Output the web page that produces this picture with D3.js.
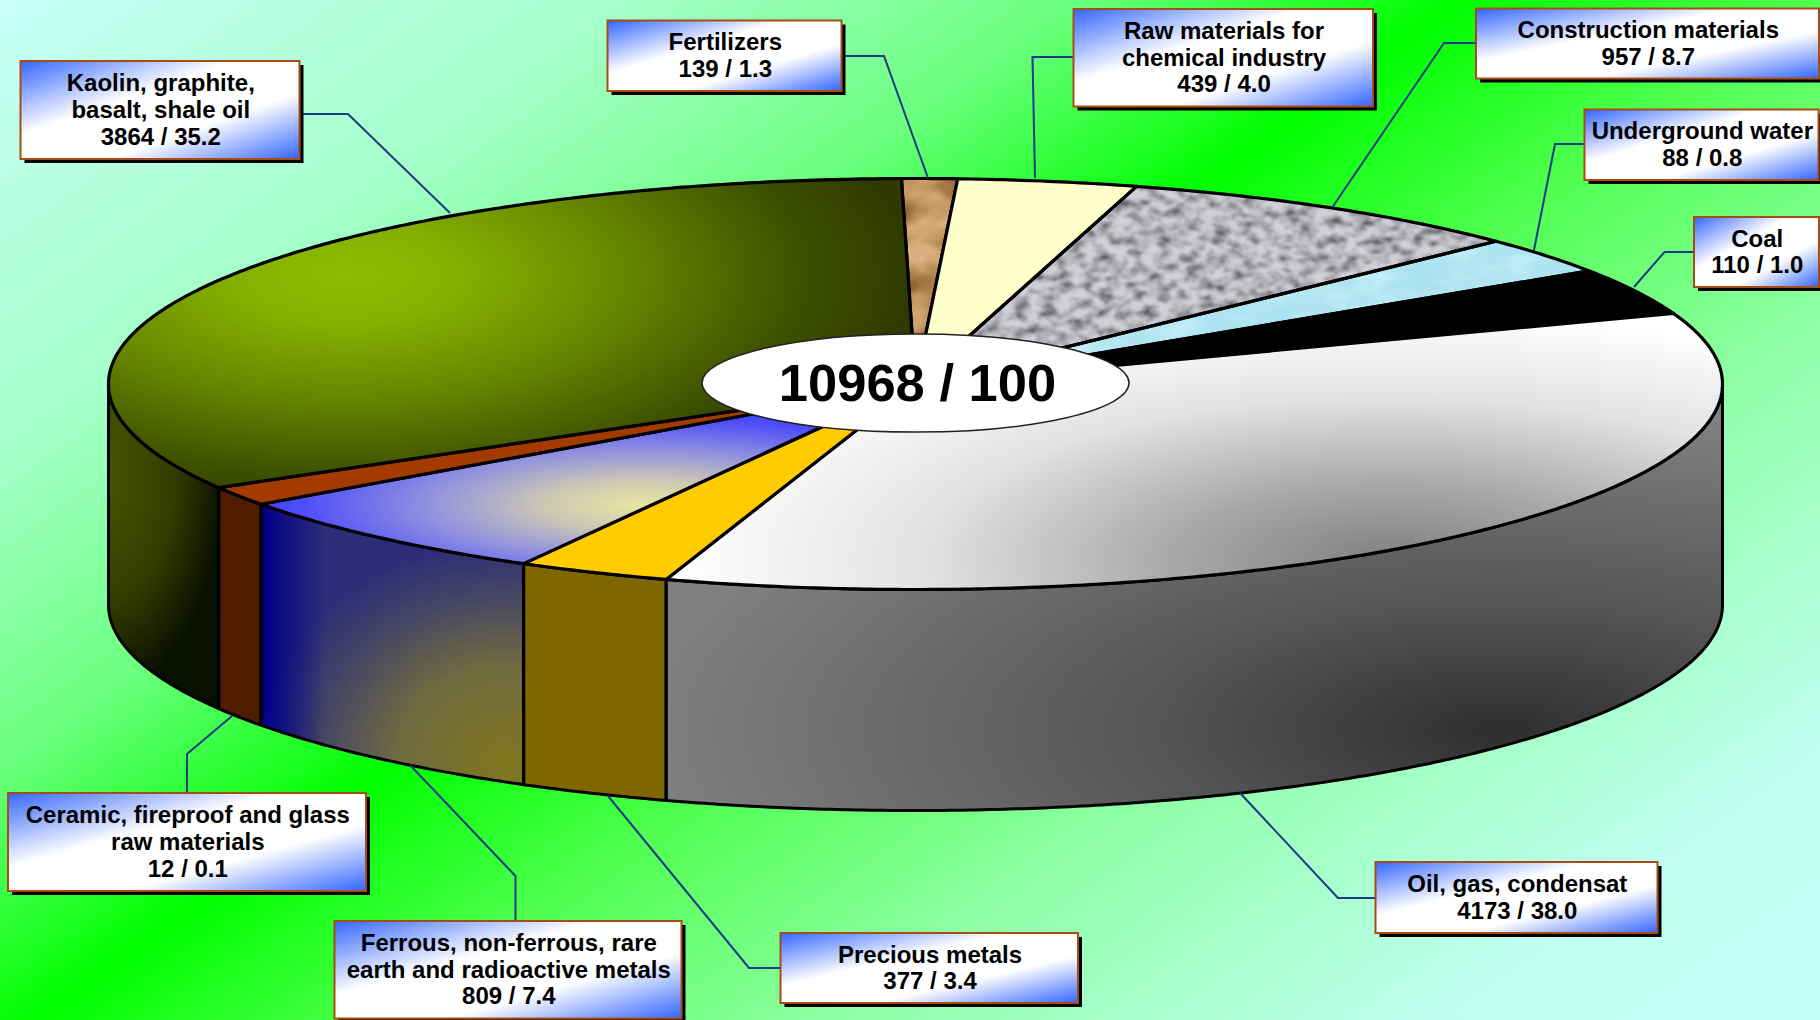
<!DOCTYPE html>
<html><head><meta charset="utf-8">
<script src="https://cdn.jsdelivr.net/npm/d3@7/dist/d3.min.js"></script>
<style>html,body{margin:0;padding:0;overflow:hidden;background:#fff}svg{display:block}text{font-family:"Liberation Sans",Arial,sans-serif;font-weight:700;fill:#000}</style>
</head><body><script>
// ---- data, clockwise from the top of the disc ----
const categories = ["Fertilizers","Raw materials for chemical industry","Construction materials","Underground water","Coal","Oil, gas, condensat","Precious metals","Ferrous, non-ferrous, rare earth and radioactive metals","Ceramic, fireproof and glass raw materials","Kaolin, graphite, basalt, shale oil"];
const labelLines = [["Fertilizers"],["Raw materials for","chemical industry"],["Construction materials"],["Underground water"],["Coal"],["Oil, gas, condensat"],["Precious metals"],["Ferrous, non-ferrous, rare","earth and radioactive metals"],["Ceramic, fireproof and glass","raw materials"],["Kaolin, graphite,","basalt, shale oil"]];
const reserves = [139,439,957,88,110,4173,377,809,12,3864];
const shares = ["1.3","4.0","8.7","0.8","1.0","38.0","3.4","7.4","0.1","35.2"];
// slice sweep as drawn in the picture, degrees (small slices are inflated in the original)
const drawnSweep = [4,12.9,30.1,10.6,13.3,128.1,11.05,25.15,5.5,119.3];
const totalLabel = "10968 / 100";

// ---- layout, kept apart from the data ----
const W=1820,H=1020,cx=915.5,cy=384,rx=807,ry=205.5,depth=221;
const boxes=[[607.5,20.5,841.5,91],[1073.5,9,1373,106.5],[1476,8.5,1819,78.5],[1584.5,109.5,1818.5,180],[1694,217,1819,287],[1375.5,862,1657.5,933],[780.5,933,1078,1003],[334.5,921,681.5,1018.5],[8,793,366,891],[20.5,61,299.5,159]];
const leaders=[[[841,56],[884,56],[928,178]],[[1074,57],[1032.5,57],[1035,178]],[[1476,43],[1444,43],[1332.5,207]],[[1584,144],[1555,144],[1534,250]],[[1694,252],[1664.5,252],[1634,287]],[[1375,898],[1338,898],[1240,793]],[[780,968],[749,968],[608,796]],[[515.5,921],[515.5,876],[410,765]],[[187,793],[187,754],[232,716]],[[300,114],[348,114],[450,213]]];

const svg=d3.select("body").append("svg").attr("width",W).attr("height",H).attr("viewBox",`0 0 ${W} ${H}`);
const defs=svg.append("defs");
function stops(g,s){s.forEach(([o,c,a])=>{const st=g.append("stop").attr("offset",o).attr("stop-color",c);if(a!==undefined)st.attr("stop-opacity",a);});return g;}
function radial(id,x,y,a,b,s){return stops(defs.append("radialGradient").attr("id",id).attr("gradientUnits","userSpaceOnUse").attr("cx",0).attr("cy",0).attr("r",1).attr("gradientTransform",`translate(${x},${y}) scale(${a},${b})`),s);}
function noise(id,freq,oct,seed,k,off,blur,r,g,b){
  const f=defs.append("filter").attr("id",id).attr("x",0).attr("y",0).attr("width","100%").attr("height","100%").attr("color-interpolation-filters","sRGB");
  f.append("feTurbulence").attr("type","fractalNoise").attr("baseFrequency",freq).attr("numOctaves",oct).attr("seed",seed);
  f.append("feColorMatrix").attr("type","matrix").attr("values",`${k} 0 0 0 ${off} ${k} 0 0 0 ${off} ${k} 0 0 0 ${off} 0 0 0 0 1`);
  f.append("feGaussianBlur").attr("stdDeviation",blur);
  const t=f.append("feComponentTransfer");
  t.append("feFuncR").attr("type","table").attr("tableValues",r);
  t.append("feFuncG").attr("type","table").attr("tableValues",g);
  t.append("feFuncB").attr("type","table").attr("tableValues",b);
}
// page background
stops(defs.append("linearGradient").attr("id","bg").attr("gradientUnits","userSpaceOnUse").attr("x1",0).attr("y1",0).attr("x2",1098).attr("y2",1534),
 [[0,"#c8fff8"],[.2,"#a4ffc8"],[.33,"#6cff80"],[.45,"#00ff00"],[.56,"#50ff50"],[.7,"#90ffa8"],[.88,"#c0fff0"],[1,"#c4fff4"]]);
// label boxes
stops(defs.append("linearGradient").attr("id","box").attr("x1",0).attr("y1",0).attr("x2",1).attr("y2",1),
 [[0,"#3366ff"],[.38,"#ffffff"],[.66,"#ffffff"],[1,"#3366ff"]]);
// slice tops
radial("tKaolin",345,275,570,250,[[0,"#8cbc00"],[.2,"#84b000"],[.5,"#668400"],[.8,"#3f5000"],[1,"#2f3a00"]]);
radial("tFerrous",645,505,400,100,[[0,"#eae6a0"],[.25,"#ccc8b4"],[.55,"#9090e0"],[.85,"#5050f8"],[1,"#3838ff"]]);
radial("tOil",1390,560,720,250,[[0,"#808080"],[.3,"#a8a8a8"],[.65,"#e2e2e2"],[1,"#ffffff"]]);
// slice sides
radial("sKaolin",100,470,125,225,[[0,"#4a5800"],[.6,"#333c00"],[1,"#0a1000"]]);
radial("sFerrous",505,760,270,240,[[0,"#807620"],[.4,"#6e6a40"],[.7,"#444466"],[.92,"#2c2c78"],[1,"#2c2c78"]]);
stops(defs.append("linearGradient").attr("id","sFerrousEdge").attr("gradientUnits","userSpaceOnUse").attr("x1",262).attr("y1",0).attr("x2",325).attr("y2",0),[[0,"#000088",1],[1,"#000088",0]]);
radial("sOil",1500,730,860,320,[[0,"#2e2e2e"],[.4,"#555555"],[1,"#808080"]]);
noise("nGranite","0.07 0.11",3,7,2.2,-0.4,0.8,"0.36 0.55 0.70 0.82","0.36 0.55 0.70 0.82","0.39 0.58 0.73 0.85");
noise("nRock","0.02 0.03",3,11,2.0,-0.5,0.8,"0.58 0.74 0.86","0.40 0.57 0.70","0.20 0.35 0.50");
noise("nWater","0.02 0.05",3,4,1.6,-0.3,0.6,"0.66 0.70 0.78","0.88 0.90 0.94","0.94 0.95 0.97");

svg.append("rect").attr("width",W).attr("height",H).attr("fill","url(#bg)");

// ---- disc ----
const x=d3.scaleLinear().domain([-1,1]).range([cx-rx,cx+rx]);
const y=d3.scaleLinear().domain([-1,1]).range([cy-ry,cy+ry]);
const px=a=>x(Math.sin(a)), py=a=>y(-Math.cos(a));
const pie=d3.pie().sort(null).value(d=>d).startAngle(-1*Math.PI/180).endAngle(359*Math.PI/180);
const arcs=pie(drawnSweep);
const line=d3.line();
const sample=(a0,a1)=>{const n=Math.max(2,Math.ceil(Math.abs(a1-a0)*120));return d3.range(n+1).map(i=>a0+(a1-a0)*i/n);};
const topPath=d=>line([[cx,cy],...sample(d.startAngle,d.endAngle).map(a=>[px(a),py(a)])])+"Z";
const sidePath=(a0,a1)=>{const s=sample(a0,a1);return line([...s.map(a=>[px(a),py(a)]),...s.slice().reverse().map(a=>[px(a),py(a)+depth])])+"Z";};
const topFill=["#c9a070","#ffffcc","#a8a8b0","#b4e6f0","#000000","url(#tOil)","#ffcc00","url(#tFerrous)","#a33a00","url(#tKaolin)"];
const sideFill=[null,null,null,null,null,"url(#sOil)","#806600","url(#sFerrous)","#501c00","url(#sKaolin)"];
const texture=["nRock",null,"nGranite","nWater",null,null,null,null,null,null];
const ferrousIndex=7;

// front wall: only the part of each slice that faces the viewer (a in 90..270 degrees)
const fr0=Math.PI/2, fr1=Math.PI*1.5;
const wallPath=d=>sidePath(Math.max(d.startAngle,fr0),Math.min(d.endAngle,fr1));
const walls=svg.append("g");
walls.selectAll("path.wall").data(arcs.filter((d,i)=>sideFill[i])).join("path").attr("class","wall")
 .attr("d",wallPath).attr("fill",d=>sideFill[d.index]);
walls.append("path").attr("d",wallPath(arcs[ferrousIndex])).attr("fill","url(#sFerrousEdge)");
walls.selectAll("path.edge").data(arcs.filter((d,i)=>sideFill[i])).join("path").attr("class","edge")
 .attr("d",wallPath).attr("fill","none").attr("stroke","#000").attr("stroke-width",3).attr("stroke-linejoin","round");

const tops=svg.append("g");
arcs.forEach((d,i)=>{
  if(texture[i]){
    defs.append("clipPath").attr("id","clip"+i).append("path").attr("d",topPath(d));
    tops.append("g").attr("clip-path",`url(#clip${i})`).append("rect")
      .attr("x",cx-60).attr("y",cy-ry-5).attr("width",rx+60).attr("height",ry+20).attr("filter",`url(#${texture[i]})`);
  }
});
tops.selectAll("path").data(arcs).join("path").attr("d",topPath)
 .attr("fill",d=>texture[d.index]?"none":topFill[d.index])
 .attr("stroke","#000").attr("stroke-width",3.2).attr("stroke-linejoin","round");

// centre total
svg.append("ellipse").attr("cx",cx).attr("cy",383).attr("rx",213.5).attr("ry",49).attr("fill","#fff").attr("stroke","#222").attr("stroke-width",1.5);
svg.append("text").attr("x",cx+2).attr("y",401).attr("text-anchor","middle").attr("font-size",52.5).text(totalLabel);

// ---- leader lines and label boxes ----
svg.append("g").selectAll("path").data(leaders).join("path").attr("d",d=>line(d)).attr("fill","none").attr("stroke","#1c3a86").attr("stroke-width",2);
const lab=svg.append("g").selectAll("g").data(categories).join("g");
lab.append("rect").attr("x",(d,i)=>boxes[i][0]+4).attr("y",(d,i)=>boxes[i][1]+4).attr("width",(d,i)=>boxes[i][2]-boxes[i][0]).attr("height",(d,i)=>boxes[i][3]-boxes[i][1]).attr("fill","#000");
lab.append("rect").attr("x",(d,i)=>boxes[i][0]).attr("y",(d,i)=>boxes[i][1]).attr("width",(d,i)=>boxes[i][2]-boxes[i][0]).attr("height",(d,i)=>boxes[i][3]-boxes[i][1]).attr("fill","url(#box)").attr("stroke","#a84c14").attr("stroke-width",2);
lab.each(function(d,i){
  const lines=[...labelLines[i],`${reserves[i]} / ${shares[i]}`];
  const b=boxes[i], mx=(b[0]+b[2])/2+0.8, my=(b[1]+b[3])/2;
  d3.select(this).selectAll("text").data(lines).join("text").attr("x",mx).attr("y",(t,j)=>my+8+(j-(lines.length-1)/2)*26.7).attr("text-anchor","middle").attr("font-size",24).text(t=>t);
});
</script></body></html>
